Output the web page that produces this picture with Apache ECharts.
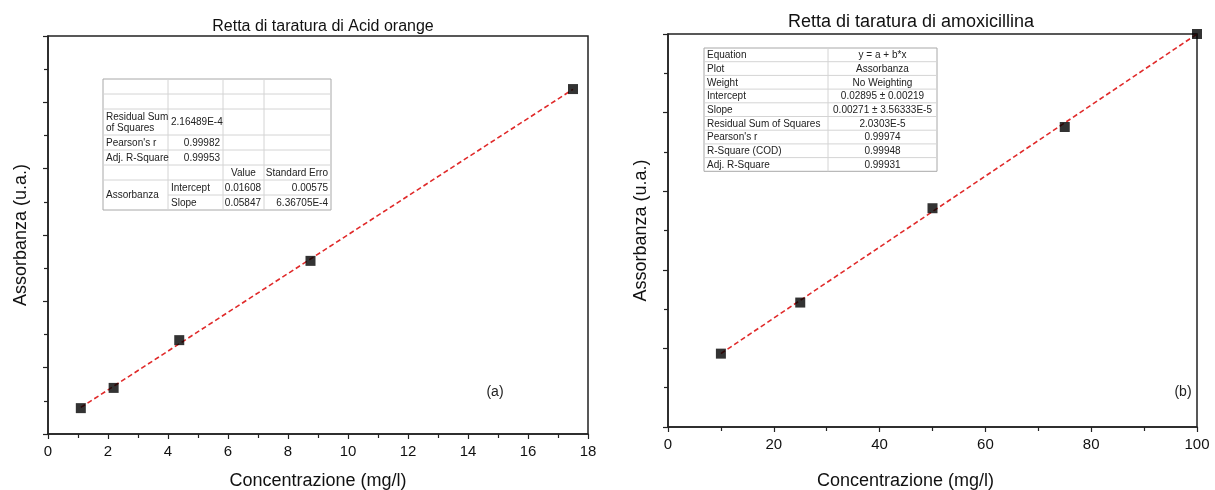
<!DOCTYPE html>
<html>
<head>
<meta charset="utf-8">
<script src="https://cdn.jsdelivr.net/npm/echarts@6/dist/echarts.min.js"></script>
<style>
html, body { margin: 0; padding: 0; background: #fff; }
#chart { width: 1215px; height: 490px; }
</style>
</head>
<body>
<div id="chart"></div>
<script>
// (a) Acid orange
var concA = [1.094, 2.188, 4.375, 8.75, 17.5];
var absA = [0.078, 0.139, 0.283, 0.522, 1.040];
var fitA = [0.01608, 0.05847]; // intercept, slope
var xTicksA = [0, 18, 2];

// (b) amoxicillina
var concB = [10, 25, 50, 75, 100];
var absB = [0.056, 0.095, 0.167, 0.229, 0.300];
var fitB = [0.02895, 0.00271];
var xTicksB = [0, 100, 20];

// tabelle dei fit
var tableA = [
	['', '', '', ''],
	['', '', '', ''],
	['Residual Sum\nof Squares', '2.16489E-4', '', ''],
	["Pearson's r", '0.99982', '', ''],
	['Adj. R-Square', '0.99953', '', ''],
	['', '', 'Value', 'Standard Erro'],
	['Assorbanza', 'Intercept', '0.01608', '0.00575'],
	['', 'Slope', '0.05847', '6.36705E-4']
];
var tableB = [
	['Equation', 'y = a + b*x'],
	['Plot', 'Assorbanza'],
	['Weight', 'No Weighting'],
	['Intercept', '0.02895 \u00b1 0.00219'],
	['Slope', '0.00271 \u00b1 3.56333E-5'],
	['Residual Sum of Squares', '2.0303E-5'],
	["Pearson's r", '0.99974'],
	['R-Square (COD)', '0.99948'],
	['Adj. R-Square', '0.99931']
];

var FONT = '"Liberation Sans", Arial, sans-serif';

function zip(xs, ys) {
	return xs.map(function(x, i) { return [x, ys[i]]; });
}
function fitLine(xs, fit) {
	var x0 = xs[0], x1 = xs[xs.length - 1];
	return [[x0, fit[0] + fit[1] * x0], [x1, fit[0] + fit[1] * x1]];
}

// disegna una tabella con rect + testo
function makeTable(x, y, colW, rowH, rows, aligns, opts) {
	var els = [];
	var W = colW.reduce(function(a, b) { return a + b; }, 0);
	var H = rowH.reduce(function(a, b) { return a + b; }, 0);
	els.push({ type: 'rect', shape: { x: x, y: y, width: W, height: H }, style: { fill: '#fff', stroke: '#a8a8a8', lineWidth: 1 }, z: 10 });
	var yy = y;
	for (var r = 0; r < rows.length; r++) {
		if (r > 0) {
			var sx = x;
			if (opts && opts.skipLine && opts.skipLine[r]) sx = x + colW[0];
			els.push({ type: 'line', shape: { x1: sx, y1: yy, x2: x + W, y2: yy }, style: { stroke: '#d4d4d4', lineWidth: 1 }, z: 11 });
		}
		var xx = x;
		for (var c = 0; c < colW.length; c++) {
			var t = rows[r][c];
			var h = rowH[r];
			if (opts && opts.span && opts.span[r + ',' + c]) h = rowH[r] + rowH[r + 1];
			if (t) {
				var al = aligns[r] ? aligns[r][c] : 'left';
				var tx = al === 'left' ? xx + 3 : (al === 'right' ? xx + colW[c] - 3 : xx + colW[c] / 2);
				els.push({ type: 'text', z: 12, style: { text: t, x: tx, y: yy + h / 2 + 0.5, align: al, verticalAlign: 'middle', font: '10px ' + FONT, fill: '#222', lineHeight: 11 } });
			}
			xx += colW[c];
		}
		yy += rowH[r];
	}
	var vx = x;
	for (var c2 = 0; c2 < colW.length - 1; c2++) {
		vx += colW[c2];
		els.push({ type: 'line', shape: { x1: vx, y1: y, x2: vx, y2: y + H }, style: { stroke: '#d4d4d4', lineWidth: 1 }, z: 11 });
	}
	return els;
}

var alignA = [
	[], [],
	['left', 'left', 'left', 'left'],
	['left', 'right', 'left', 'left'],
	['left', 'right', 'left', 'left'],
	['left', 'left', 'center', 'right'],
	['left', 'left', 'right', 'right'],
	['left', 'left', 'right', 'right']
];
var alignB = tableB.map(function() { return ['left', 'center']; });

var myChart = echarts.init(document.getElementById('chart'));

function xAxisOpt(idx, t, gap, pad) {
	return {
		gridIndex: idx,
		type: 'value',
		min: t[0], max: t[1], interval: t[2],
		name: 'Concentrazione (mg/l)',
		nameLocation: 'middle',
		nameGap: gap,
		nameTextStyle: { fontSize: 18, color: '#111', fontFamily: FONT, padding: pad },
		axisLine: { onZero: false, lineStyle: { color: '#222', width: 1.5 } },
		axisTick: { length: 5, lineStyle: { color: '#222', width: 1.2 } },
		minorTick: { show: true, splitNumber: 2, length: 4, lineStyle: { color: '#222', width: 1.2 } },
		axisLabel: { fontSize: 15, color: '#111', fontFamily: FONT, margin: 10 },
		splitLine: { show: false }
	};
}
function yAxisOpt(idx, max, step) {
	return {
		gridIndex: idx,
		type: 'value',
		min: 0, max: max, interval: step,
		name: 'Assorbanza (u.a.)',
		nameLocation: 'middle',
		nameGap: 18,
		nameTextStyle: { fontSize: 18, color: '#111', fontFamily: FONT },
		axisLine: { onZero: false, lineStyle: { color: '#222', width: 1.5 } },
		axisTick: { length: 5, lineStyle: { color: '#222', width: 1.2 } },
		minorTick: { show: true, splitNumber: 2, length: 4, lineStyle: { color: '#222', width: 1.2 } },
		axisLabel: { show: false },
		splitLine: { show: false }
	};
}

var option = {
	backgroundColor: '#fff',
	animation: false,
	title: [{
		text: 'Retta di taratura di Acid orange',
		left: 318, top: 14, textAlign: 'center',
		textStyle: { fontSize: 16, fontWeight: 'normal', color: '#111', fontFamily: FONT }
	}, {
		text: 'Retta di taratura di amoxicillina',
		left: 906, top: 8, textAlign: 'center',
		textStyle: { fontSize: 18, fontWeight: 'normal', color: '#111', fontFamily: FONT }
	}],
	grid: [
		{ left: 48, right: 1215 - 588, top: 36, bottom: 490 - 434, show: true, borderColor: '#222', borderWidth: 1.5, outerBoundsMode: 'none', containLabel: false },
		{ left: 668, right: 1215 - 1197, top: 34, bottom: 490 - 427, show: true, borderColor: '#222', borderWidth: 1.5, outerBoundsMode: 'none', containLabel: false }
	],
	xAxis: [xAxisOpt(0, xTicksA, 38, [0, 0, 0, 0]), xAxisOpt(1, xTicksB, 45, [0, 54, 0, 0])],
	yAxis: [yAxisOpt(0, 1.2, 0.2), yAxisOpt(1, 0.3, 0.06)],
	series: [{
		type: 'line', xAxisIndex: 0, yAxisIndex: 0,
		data: fitLine(concA, fitA), symbol: 'none',
		lineStyle: { color: '#e02a2a', width: 1.6, type: [5, 3] }, z: 2
	}, {
		type: 'scatter', xAxisIndex: 0, yAxisIndex: 0,
		data: zip(concA, absA), symbol: 'rect', symbolSize: 10,
		itemStyle: { color: '#000' }, z: 3
	}, {
		type: 'line', xAxisIndex: 1, yAxisIndex: 1,
		data: fitLine(concB, fitB), symbol: 'none',
		lineStyle: { color: '#e02a2a', width: 1.6, type: [5, 3] }, z: 2
	}, {
		type: 'scatter', xAxisIndex: 1, yAxisIndex: 1,
		data: zip(concB, absB), symbol: 'rect', symbolSize: 10,
		itemStyle: { color: '#000' }, z: 3
	}],
	graphic: [].concat(
		makeTable(103, 79, [65, 55, 41, 67], [15, 15, 26, 15, 15, 15, 15, 15], tableA, alignA,
			{ skipLine: { 7: true }, span: { '6,0': true } }),
		makeTable(704, 48, [124, 109], [13.7, 13.7, 13.7, 13.7, 13.7, 13.7, 13.7, 13.7, 13.7], tableB, alignB),
		[
			{ type: 'text', z: 12, style: { text: '(a)', x: 495, y: 392, align: 'center', verticalAlign: 'middle', font: '14px ' + FONT, fill: '#222' } },
			{ type: 'text', z: 12, style: { text: '(b)', x: 1183, y: 392, align: 'center', verticalAlign: 'middle', font: '14px ' + FONT, fill: '#222' } }
		]
	)
};
myChart.setOption(option);
</script>
</body>
</html>
